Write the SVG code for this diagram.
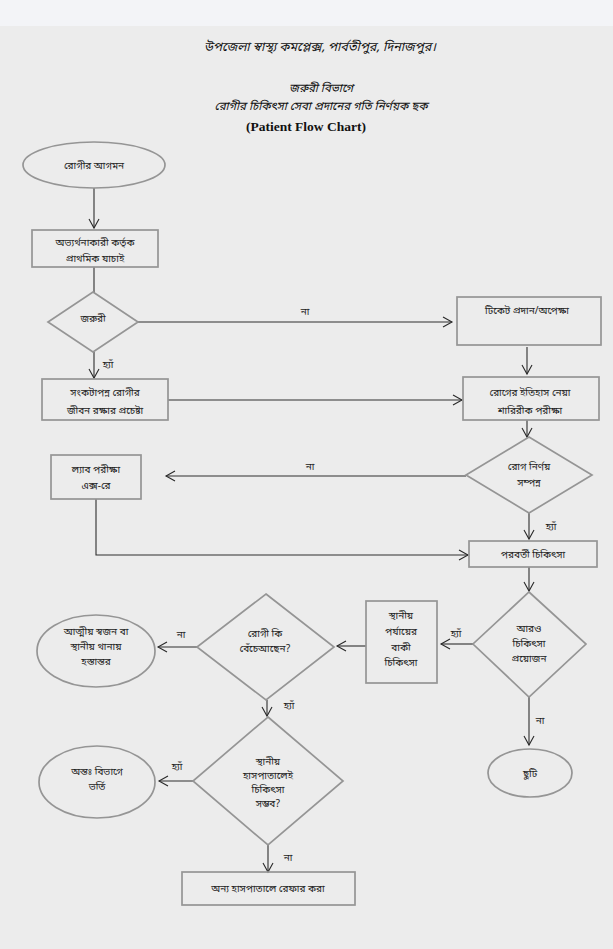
<svg xmlns="http://www.w3.org/2000/svg" width="613" height="949" viewBox="0 0 613 949">
<defs>
<marker id="ah" markerWidth="12" markerHeight="12" refX="10" refY="6" orient="auto" markerUnits="userSpaceOnUse">
<path d="M1,1 L10,6 L1,11" fill="none" stroke="#2a2a2a" stroke-width="1.1"/>
</marker>
</defs>
<style>
.box{fill:none;stroke:#959595;stroke-width:1.7}
.ln{fill:none;stroke:#2e2e2e;stroke-width:1.1}
.t{font-family:"Noto Sans Bengali","Noto Sans","Noto Serif Bengali",sans-serif;font-size:10px;fill:#222;text-anchor:middle}
.ti{font-family:"Noto Sans Bengali","Noto Sans",sans-serif;font-size:11.5px;font-style:italic;fill:#111;text-anchor:middle}
.en{font-family:"Liberation Serif",serif;font-size:13.5px;font-weight:bold;fill:#111;text-anchor:middle}
</style>
<rect x="0" y="0" width="613" height="949" fill="#ececec"/>
<rect x="0" y="0" width="613" height="26" fill="#f3f4f7"/>
<g id="title">
<text class="ti" x="320" y="51" style="font-size:12.5px">উপজেলা স্বাস্থ্য কমপ্লেক্স, পার্বতীপুর, দিনাজপুর।</text>
<text class="ti" x="321" y="92">জরুরী বিভাগে</text>
<text class="ti" x="321" y="110">রোগীর চিকিৎসা সেবা প্রদানের গতি নির্ণয়ক ছক</text>
<text class="en" x="306" y="131">(Patient Flow Chart)</text>
</g>
<g id="connectors">
<line class="ln" x1="94" y1="188" x2="94" y2="228" marker-end="url(#ah)"/>
<line class="ln" x1="94" y1="267" x2="94" y2="293"/>
<line class="ln" x1="138" y1="322" x2="452" y2="322" marker-end="url(#ah)"/>
<text class="t" x="305" y="315">না</text>
<line class="ln" x1="94" y1="352" x2="94" y2="378" marker-end="url(#ah)"/>
<text class="t" x="108" y="368">হ্যাঁ</text>
<line class="ln" x1="168" y1="400" x2="462" y2="400" marker-end="url(#ah)"/>
<line class="ln" x1="527" y1="347" x2="527" y2="374" marker-end="url(#ah)"/>
<line class="ln" x1="527" y1="420" x2="527" y2="437" marker-end="url(#ah)"/>
<line class="ln" x1="466" y1="476" x2="166" y2="476" marker-end="url(#ah)"/>
<text class="t" x="310" y="470">না</text>
<line class="ln" x1="529" y1="513" x2="529" y2="539" marker-end="url(#ah)"/>
<text class="t" x="551" y="530">হ্যাঁ</text>
<polyline class="ln" points="96,499 96,555 468,555" marker-end="url(#ah)"/>
<line class="ln" x1="529" y1="567" x2="529" y2="591" marker-end="url(#ah)"/>
<line class="ln" x1="473" y1="644" x2="441" y2="644" marker-end="url(#ah)"/>
<text class="t" x="456" y="637">হ্যাঁ</text>
<line class="ln" x1="529" y1="697" x2="529" y2="745" marker-end="url(#ah)"/>
<text class="t" x="540" y="724">না</text>
<line class="ln" x1="366" y1="646" x2="337" y2="646" marker-end="url(#ah)"/>
<line class="ln" x1="197" y1="647" x2="158" y2="647" marker-end="url(#ah)"/>
<text class="t" x="181" y="638">না</text>
<line class="ln" x1="267" y1="700" x2="267" y2="716" marker-end="url(#ah)"/>
<text class="t" x="289" y="709">হ্যাঁ</text>
<line class="ln" x1="193" y1="781" x2="159" y2="781" marker-end="url(#ah)"/>
<text class="t" x="177" y="770">হ্যাঁ</text>
<line class="ln" x1="268" y1="845" x2="268" y2="872" marker-end="url(#ah)"/>
<text class="t" x="288" y="861">না</text>
</g>
<g id="n1"><ellipse class="box" cx="94" cy="165" rx="71" ry="23"/><text class="t" x="94" y="169">রোগীর আগমন</text></g>
<g id="n2"><rect class="box" x="32" y="230" width="126" height="37"/><text class="t" x="95" y="246">অভ্যর্থনাকারী কর্তৃক</text><text class="t" x="95" y="262">প্রাথমিক যাচাই</text></g>
<g id="n3"><polygon class="box" points="93,292 138,322 93,352 48,322"/><text class="t" x="93" y="322">জরুরী</text></g>
<g id="n4"><rect class="box" x="42" y="379" width="126" height="41"/><text class="t" x="105" y="396">সংকটাপন্ন রোগীর</text><text class="t" x="105" y="414">জীবন রক্ষার প্রচেষ্টা</text></g>
<g id="n5"><rect class="box" x="457" y="297" width="144" height="48"/><text class="t" x="527" y="314">টিকেট প্রদান/অপেক্ষা</text></g>
<g id="n6"><rect class="box" x="463" y="377" width="136" height="43"/><text class="t" x="530" y="396">রোগের ইতিহাস নেয়া</text><text class="t" x="530" y="414">শারিরীক পরীক্ষা</text></g>
<g id="n7"><polygon class="box" points="529,437 592,475 529,513 466,475"/><text class="t" x="529" y="470">রোগ নির্ণয়</text><text class="t" x="529" y="486">সম্পন্ন</text></g>
<g id="n8"><rect class="box" x="51" y="455" width="90" height="44"/><text class="t" x="96" y="473">ল্যাব পরীক্ষা</text><text class="t" x="96" y="489">এক্স-রে</text></g>
<g id="n9"><rect class="box" x="469" y="541" width="128" height="26"/><text class="t" x="533" y="558">পরবর্তী চিকিৎসা</text></g>
<g id="n10"><polygon class="box" points="529,592 586,644 529,697 473,644"/><text class="t" x="529" y="632">আরও</text><text class="t" x="529" y="647">চিকিৎসা</text><text class="t" x="529" y="662">প্রয়োজন</text></g>
<g id="n11"><rect class="box" x="366" y="601" width="71" height="82"/><text class="t" x="401" y="619">স্থানীয়</text><text class="t" x="401" y="635">পর্যায়ের</text><text class="t" x="401" y="651">বাকী</text><text class="t" x="401" y="666">চিকিৎসা</text></g>
<g id="n12"><polygon class="box" points="266,594 334,647 266,700 197,647"/><text class="t" x="265" y="637">রোগী কি</text><text class="t" x="265" y="652">বেঁচেআছেন?</text></g>
<g id="n13"><ellipse class="box" cx="96" cy="651" rx="59" ry="36"/><text class="t" x="96" y="635">আত্মীয় স্বজন বা</text><text class="t" x="96" y="650">স্থানীয় থানায়</text><text class="t" x="96" y="665">হস্তান্তর</text></g>
<g id="n14"><polygon class="box" points="268,717 343,781 268,845 193,781"/><text class="t" x="268" y="765">স্থানীয়</text><text class="t" x="268" y="779">হাসপাতালেই</text><text class="t" x="268" y="793">চিকিৎসা</text><text class="t" x="268" y="807">সম্ভব?</text></g>
<g id="n15"><ellipse class="box" cx="97" cy="782" rx="58" ry="36"/><text class="t" x="97" y="775">অন্তঃ বিভাগে</text><text class="t" x="97" y="790">ভর্তি</text></g>
<g id="n16"><ellipse class="box" cx="530" cy="773" rx="42" ry="24"/><text class="t" x="530" y="777">ছুটি</text></g>
<g id="n17"><rect class="box" x="182" y="872" width="173" height="33"/><text class="t" x="268" y="892">অন্য হাসপাতালে রেফার করা</text></g>
</svg>
